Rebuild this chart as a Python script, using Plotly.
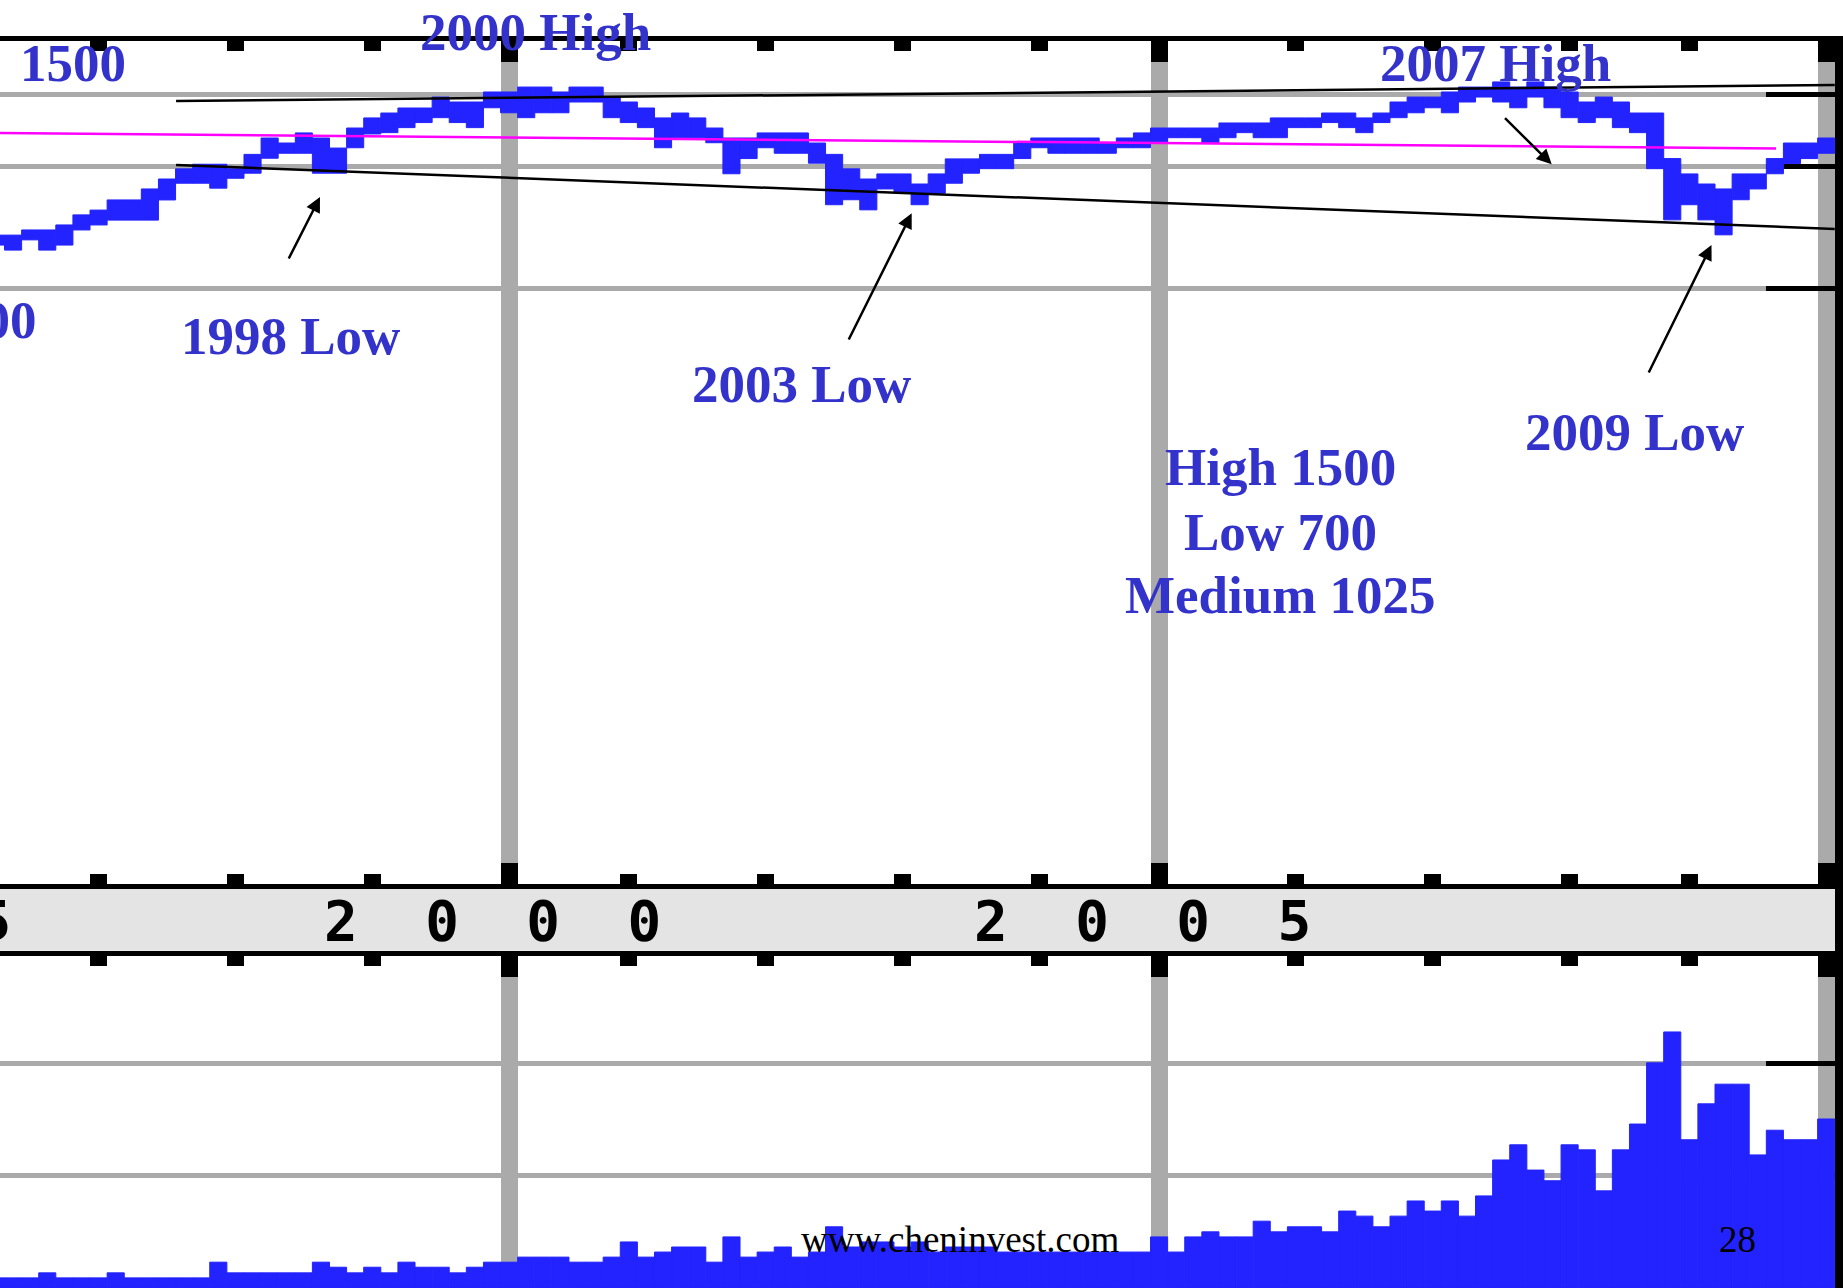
import math
import plotly.graph_objects as go

# ---------------- data ----------------
# one sample per period (column) of the chart, period -1 .. 106
period = list(range(-1, 107))

price_high = [676, 676, 696, 696, 716, 758, 779, 825, 825, 878,
              929, 984, 1010, 1010, 984, 1068, 1172, 1139, 1206, 1172,
              1107, 1240, 1313, 1350, 1389, 1389, 1478, 1437, 1437, 1521,
              1521, 1564, 1564, 1521, 1564, 1564, 1478, 1437, 1389, 1313,
              1350, 1313, 1240, 1172, 1172, 1206, 1206, 1206, 1139, 1068,
              984, 929, 956, 956, 903, 956, 1041, 1041, 1068, 1068,
              1139, 1172, 1172, 1172, 1172, 1139, 1172, 1206, 1240, 1240,
              1240, 1240, 1276, 1276, 1276, 1313, 1313, 1313, 1350, 1350,
              1313, 1350, 1437, 1478, 1478, 1521, 1564, 1564, 1610, 1564,
              1610, 1564, 1521, 1437, 1478, 1437, 1350, 1350, 1043, 956,
              903, 878, 956, 956, 1043, 1139, 1139, 1172]

price_low = [639, 621, 658, 621, 639, 696, 716, 736, 736, 736,
             825, 907, 907, 882, 933, 960, 1045, 1075, 1075, 960,
             960, 1109, 1199, 1208, 1243, 1279, 1315, 1279, 1243, 1391,
             1352, 1315, 1352, 1352, 1437, 1437, 1315, 1279, 1243, 1109,
             1174, 1174, 1141, 957, 1043, 1109, 1075, 1075, 1016, 803,
             826, 780, 878, 860, 803, 857, 907, 960, 985, 985,
             1043, 1109, 1075, 1075, 1075, 1075, 1109, 1109, 1141, 1174,
             1174, 1141, 1174, 1208, 1174, 1174, 1243, 1243, 1279, 1243,
             1208, 1279, 1315, 1352, 1391, 1352, 1437, 1478, 1437, 1391,
             1478, 1391, 1315, 1279, 1315, 1243, 1208, 985, 737, 803,
             737, 677, 826, 878, 957, 1014, 1043, 1075]

volume = [0.18, 0.18, 0.18, 0.27, 0.18, 0.18, 0.18, 0.27, 0.18, 0.18,
          0.18, 0.18, 0.18, 0.46, 0.27, 0.27, 0.27, 0.27, 0.27, 0.46,
          0.37, 0.27, 0.37, 0.27, 0.46, 0.37, 0.37, 0.27, 0.37, 0.46,
          0.46, 0.55, 0.55, 0.55, 0.46, 0.46, 0.55, 0.82, 0.55, 0.64,
          0.73, 0.73, 0.46, 0.91, 0.55, 0.64, 0.73, 0.55, 0.64, 1.09,
          0.73, 0.82, 0.82, 0.73, 0.82, 0.64, 0.73, 0.73, 0.73, 0.64,
          0.64, 0.64, 0.64, 0.64, 0.64, 0.64, 0.64, 0.64, 0.91, 0.64,
          0.91, 1.00, 0.91, 0.91, 1.19, 1.00, 1.09, 1.09, 1.00, 1.37,
          1.28, 1.09, 1.28, 1.55, 1.37, 1.55, 1.28, 1.64, 2.28, 2.55,
          2.10, 1.91, 2.55, 2.46, 1.73, 2.46, 2.92, 4.01, 4.56, 2.64,
          3.28, 3.63, 3.63, 2.37, 2.81, 2.64, 2.64, 3.01]

# trend lines (period, price)
upper_x, upper_y = [10.03, 107.0], [1445, 1582]
lower_x, lower_y = [10.03, 107.0], [1006, 700]
medium_x, medium_y = [-0.3, 103.57], [1206, 1104]

price_grid = [500, 1000, 1500]
volume_grid = [2, 4]
year_line_periods = [29, 67, 106]
year_tick_periods = [5, 13, 21, 36, 44, 52, 60, 75, 83, 91, 98]
band_years = ["1995", "2000", "2005"]
band_year_periods = [-9, 29, 67]

# ---------------- layout geometry (pixels) ----------------
W, H = 1843, 1288
PX0, COLW = 4.5, 17.105          # pixel of period 0 left edge, period width
PLOT_R = 1835
PRICE_TOP, PRICE_BOT = 41, 884
BAND_TOP, BAND_BOT = 889, 950.7
VOL_TOP = 955.7
Y1000, PX_PER_LN = 166.0, 176.5
VOL_PX_PER_UNIT = 56.15


def px_to_x(px):
    return (px - PX0) / COLW


def price_at(py):
    return 1000 * math.exp((Y1000 - py) / PX_PER_LN)


def P(px, py):
    return px / W, 1 - py / H


x_range = [px_to_x(0), px_to_x(PLOT_R)]
BLUE = "#2323ff"
TEXT_BLUE = "#3333cc"
GRID = "#aaaaaa"

fig = go.Figure()

fig.add_trace(go.Bar(
    x=[p + 0.5 for p in period],
    y=[h - l for h, l in zip(price_high, price_low)],
    base=price_low, width=1,
    marker=dict(color=BLUE, line=dict(width=1, color=BLUE)),
    xaxis="x", yaxis="y", hoverinfo="skip"))

for xs, ys, col in [(upper_x, upper_y, "black"), (lower_x, lower_y, "black"),
                    (medium_x, medium_y, "#ff00ff")]:
    fig.add_trace(go.Scatter(x=xs, y=ys, mode="lines",
                             line=dict(color=col, width=2.5),
                             xaxis="x", yaxis="y", hoverinfo="skip"))

fig.add_trace(go.Bar(
    x=[p + 0.5 for p in period], y=volume, width=1,
    marker=dict(color=BLUE, line=dict(width=1, color=BLUE)),
    xaxis="x2", yaxis="y2", hoverinfo="skip"))

common_x = dict(
    range=x_range, domain=[0, PLOT_R / W], side="top",
    showline=True, linecolor="black", linewidth=5,
    ticks="inside", tickmode="array",
    tickvals=[c + 0.5 for c in year_line_periods],
    ticklen=21, tickwidth=COLW, tickcolor="black",
    showticklabels=False, showgrid=True, gridcolor=GRID, gridwidth=COLW,
    zeroline=False, fixedrange=True,
    minor=dict(tickmode="array", tickvals=[c + 0.5 for c in year_tick_periods],
               ticks="inside", ticklen=10, tickwidth=COLW, tickcolor="black",
               showgrid=False),
)

fig.update_layout(
    width=W, height=H,
    margin=dict(l=0, r=0, t=0, b=0, pad=0),
    paper_bgcolor="white", plot_bgcolor="white",
    showlegend=False, barmode="overlay",
    xaxis=dict(**common_x, anchor="y", mirror="ticks"),
    yaxis=dict(
        type="log", anchor="x",
        domain=[(H - PRICE_BOT) / H, (H - PRICE_TOP) / H],
        range=[math.log10(price_at(PRICE_BOT)), math.log10(price_at(PRICE_TOP))],
        side="right", tickmode="array", tickvals=price_grid,
        ticks="inside", ticklen=69, tickwidth=4.5, tickcolor="black",
        showticklabels=False, showgrid=True, gridcolor=GRID, gridwidth=4.5,
        showline=False, zeroline=False, layer="below traces", fixedrange=True),
    xaxis2=dict(**common_x, anchor="y2", mirror=False),
    yaxis2=dict(
        anchor="x2", domain=[0, (H - VOL_TOP) / H],
        range=[0, (H - VOL_TOP) / VOL_PX_PER_UNIT],
        side="right", tickmode="array", tickvals=volume_grid,
        ticks="inside", ticklen=69, tickwidth=4.5, tickcolor="black",
        showticklabels=False, showgrid=True, gridcolor=GRID, gridwidth=4.5,
        showline=False, zeroline=False, layer="below traces", fixedrange=True),
)

# date band and right border
fig.add_shape(type="rect", xref="paper", yref="paper",
              x0=0, x1=PLOT_R / W, y0=1 - BAND_BOT / H, y1=1 - BAND_TOP / H,
              fillcolor="#e4e4e4", line=dict(width=0), layer="below")
fig.add_shape(type="rect", xref="paper", yref="paper",
              x0=PLOT_R / W, x1=1, y0=0, y1=1 - 36 / H,
              fillcolor="black", line=dict(width=0), layer="above")

annotations = []

# pixel-style year labels in the date band
for lab, per in zip(band_years, band_year_periods):
    cx = PX0 + COLW * (per - 0.47)
    xp, yp = P(cx, 920)
    annotations.append(dict(
        text="\u00a0\u00a0".join(lab), xref="paper", yref="paper",
        x=xp, y=yp, xanchor="center", yanchor="middle", showarrow=False,
        font=dict(family="DejaVu Sans Mono", size=56, color="black", weight="bold")))

blue_labels = [("1500", 73, 63.5), ("2000 High", 535, 32), ("2007 High", 1495.5, 63.4),
               ("1998 Low", 290, 336), ("2003 Low", 801.5, 384), ("2009 Low", 1634, 432),
               ("High 1500", 1280, 467), ("Low 700", 1280, 532),
               ("Medium 1025", 1280, 595)]
for txt, cx, cy in blue_labels:
    xp, yp = P(cx, cy)
    annotations.append(dict(
        text="<b>%s</b>" % txt, xref="paper", yref="paper", x=xp, y=yp,
        xanchor="center", yanchor="middle", showarrow=False,
        font=dict(family="Liberation Serif", size=53, color=TEXT_BLUE)))

xp, yp = P(39, 320)
annotations.append(dict(
    text="<b>500</b>", xref="paper", yref="paper", x=xp, y=yp,
    xanchor="right", yanchor="middle", showarrow=False,
    font=dict(family="Liberation Serif", size=53, color=TEXT_BLUE)))

# arrows: tip pixel, tail pixel
arrows = [((320, 197), (288, 260)), ((911.7, 213.3), (848, 341)),
          ((1551.7, 164.3), (1503.5, 116.7)), ((1711.5, 245), (1648, 374))]
for (tx, ty), (sx, sy) in arrows:
    xp, yp = P(tx, ty)
    annotations.append(dict(
        text="", xref="paper", yref="paper", x=xp, y=yp,
        ax=sx - tx, ay=sy - ty, showarrow=True, arrowhead=2,
        arrowsize=1.2, arrowwidth=2.5, arrowcolor="black", standoff=0))

for txt, cx, cy in [("www.cheninvest.com", 960, 1239.5), ("28", 1737, 1239)]:
    xp, yp = P(cx, cy)
    annotations.append(dict(
        text=txt, xref="paper", yref="paper", x=xp, y=yp,
        xanchor="center", yanchor="middle", showarrow=False,
        font=dict(family="Liberation Serif", size=37, color="black")))

fig.update_layout(annotations=annotations)

fig.write_html("out.html", config={"displayModeBar": False},
               post_script="document.body.style.margin='0';document.body.style.padding='0';")
